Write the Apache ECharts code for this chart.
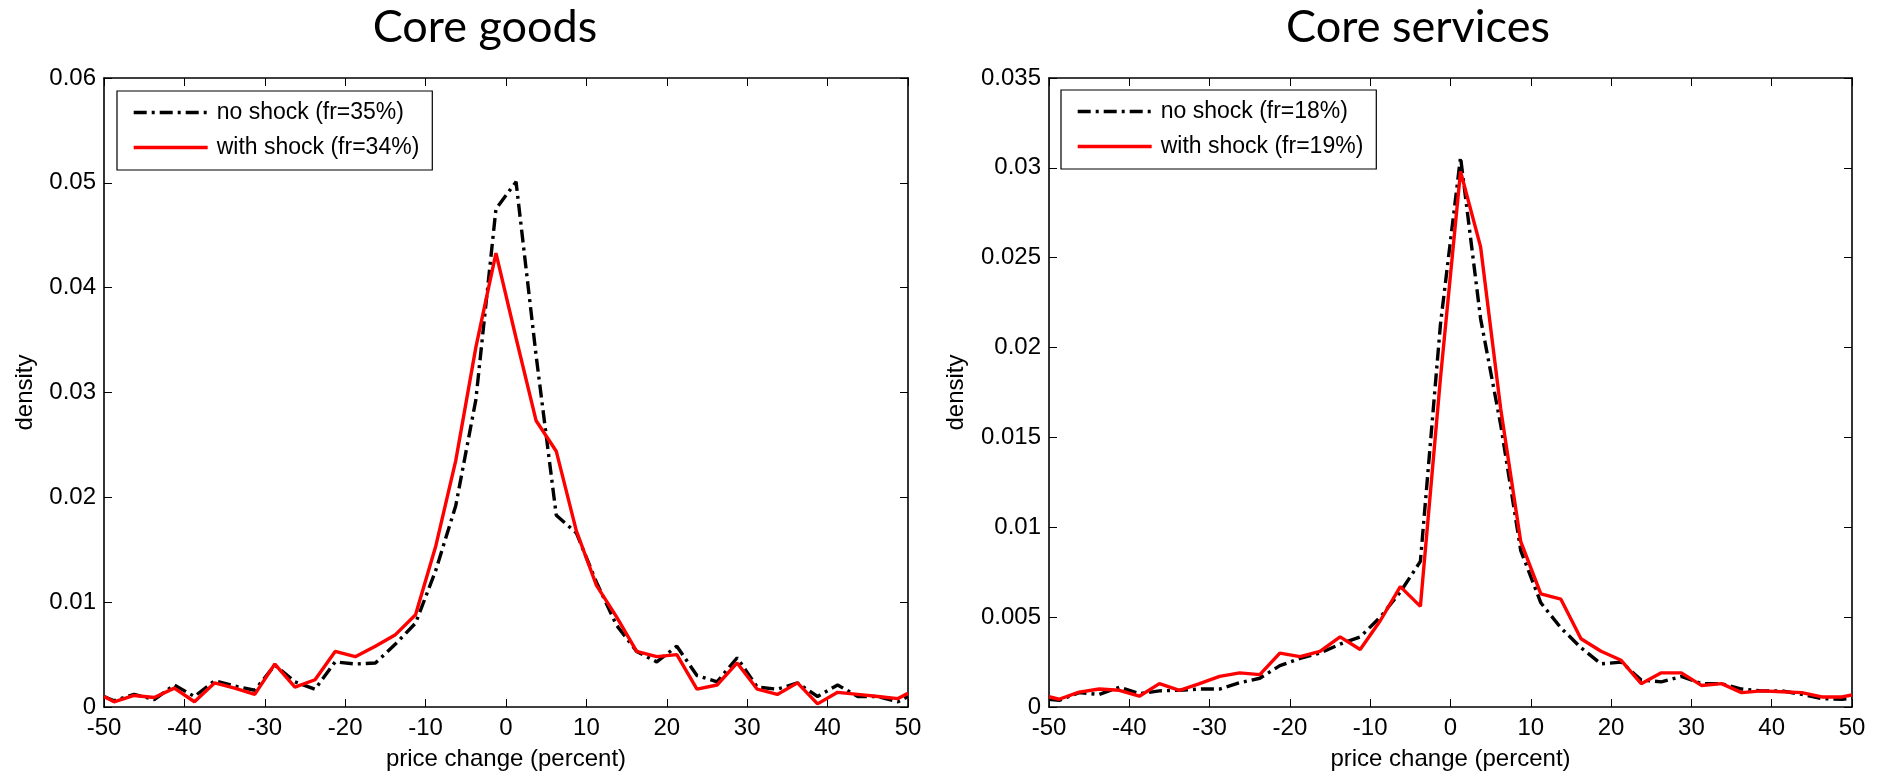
<!DOCTYPE html>
<html><head><meta charset="utf-8">
<script src="https://cdn.jsdelivr.net/npm/echarts@6/dist/echarts.min.js"></script>
<style>html,body{margin:0;padding:0;background:#fff}#c{width:1881px;height:776px}</style>
</head><body><div id="c"></div>
<script>
// price change bins (percent)
const priceChange = [-50, -48.75, -46.25, -43.75, -41.25, -38.75, -36.25, -33.75, -31.25, -28.75, -26.25, -23.75, -21.25, -18.75, -16.25, -13.75, -11.25, -8.75, -6.25, -3.75, -1.25, 1.25, 3.75, 6.25, 8.75, 11.25, 13.75, 16.25, 18.75, 21.25, 23.75, 26.25, 28.75, 31.25, 33.75, 36.25, 38.75, 41.25, 43.75, 46.25, 48.75, 50];

// Core goods
const goodsNoShock = [0.0010, 0.0006, 0.0012, 0.0007, 0.0021, 0.0010, 0.0025, 0.0020, 0.0016, 0.0040, 0.0024, 0.0017, 0.0043, 0.0041, 0.0042, 0.0060, 0.0080, 0.0130, 0.0192, 0.0293, 0.0475, 0.0501, 0.0335, 0.0183, 0.0166, 0.0119, 0.0078, 0.0053, 0.0043, 0.0058, 0.0030, 0.0024, 0.0047, 0.0019, 0.0017, 0.0023, 0.0010, 0.0021, 0.0010, 0.0010, 0.0005, 0.0010];
const goodsWithShock = [0.0010, 0.0005, 0.0011, 0.0009, 0.0018, 0.0005, 0.0023, 0.0018, 0.0012, 0.0041, 0.0019, 0.0026, 0.0053, 0.0048, 0.0058, 0.0069, 0.0088, 0.0153, 0.0235, 0.0343, 0.0433, 0.0352, 0.0273, 0.0244, 0.0168, 0.0116, 0.0086, 0.0053, 0.0048, 0.0050, 0.0017, 0.0021, 0.0042, 0.0017, 0.0012, 0.0023, 0.0003, 0.0014, 0.0012, 0.0010, 0.0008, 0.0013];

// Core services
const servicesNoShock = [0.00043, 0.00037, 0.0008, 0.0007, 0.0011, 0.00074, 0.0009, 0.00093, 0.0010, 0.0010, 0.00135, 0.0016, 0.0023, 0.0027, 0.0030, 0.0035, 0.0039, 0.0050, 0.0064, 0.0081, 0.0213, 0.0306, 0.0216, 0.0157, 0.0087, 0.0058, 0.0044, 0.0033, 0.0024, 0.0025, 0.0015, 0.0014, 0.0017, 0.0013, 0.0013, 0.0010, 0.0009, 0.0009, 0.0007, 0.00046, 0.00043, 0.0005];
const servicesWithShock = [0.00057, 0.00043, 0.00083, 0.0010, 0.00093, 0.0006, 0.0013, 0.00093, 0.0013, 0.0017, 0.0019, 0.0018, 0.0030, 0.0028, 0.0031, 0.0039, 0.0032, 0.0048, 0.0067, 0.0056, 0.0183, 0.0298, 0.0256, 0.0166, 0.0092, 0.0063, 0.0060, 0.0038, 0.0031, 0.0026, 0.0013, 0.0019, 0.0019, 0.0012, 0.0013, 0.0008, 0.0009, 0.00085, 0.0008, 0.00056, 0.00056, 0.00067];

// axis ranges / tick steps
const xRange = [-50, 50], xStep = 10;
const goodsYRange = [0, 0.06], goodsYStep = 0.01;
const servicesYRange = [0, 0.035], servicesYStep = 0.005;

const titles = ['Core goods', 'Core services'];
const legendNames = [['no shock (fr=35%)', 'with shock (fr=34%)'], ['no shock (fr=18%)', 'with shock (fr=19%)']];
const xName = 'price change (percent)';
const yName = 'density';

const FONT = 'Liberation Sans, Arial, sans-serif';
const grids = [
  {left: 104, top: 78, width: 804, height: 631},
  {left: 1049, top: 78, width: 803, height: 631}
];
const yRanges = [goodsYRange, servicesYRange];
const ySteps = [goodsYStep, servicesYStep];
const yNameGaps = [67, 81];

const fmtY = v => v === 0 ? '0' : String(+v.toFixed(4));

const xAxes = [], yAxes = [];
[0, 1].forEach(g => {
  xAxes.push({
    gridIndex: g, type: 'value', min: xRange[0], max: xRange[1], interval: xStep, position: 'bottom',
    axisLine: {show: true, onZero: false, lineStyle: {color: '#000', width: 1.6}},
    axisTick: {show: true, inside: true, length: 8, lineStyle: {color: '#000', width: 1}},
    axisLabel: {color: '#000', fontSize: 24, fontFamily: FONT, margin: 9},
    splitLine: {show: false},
    name: xName, nameLocation: 'middle', nameGap: 40,
    nameTextStyle: {color: '#000', fontSize: 24, fontFamily: FONT}
  });
  xAxes.push({
    gridIndex: g, type: 'value', min: xRange[0], max: xRange[1], interval: xStep, position: 'top',
    axisLine: {show: true, onZero: false, lineStyle: {color: '#000', width: 1.6}},
    axisTick: {show: true, inside: true, length: 8, lineStyle: {color: '#000', width: 1}},
    axisLabel: {show: false}, splitLine: {show: false}
  });
  yAxes.push({
    gridIndex: g, type: 'value', min: yRanges[g][0], max: yRanges[g][1], interval: ySteps[g], position: 'left',
    axisLine: {show: true, onZero: false, lineStyle: {color: '#000', width: 1.6}},
    axisTick: {show: true, inside: true, length: 8, lineStyle: {color: '#000', width: 1}},
    axisLabel: {color: '#000', fontSize: 24, fontFamily: FONT, margin: 8, formatter: fmtY},
    splitLine: {show: false},
    name: yName, nameLocation: 'middle', nameGap: yNameGaps[g], nameRotate: 90,
    nameTextStyle: {color: '#000', fontSize: 24, fontFamily: FONT}
  });
  yAxes.push({
    gridIndex: g, type: 'value', min: yRanges[g][0], max: yRanges[g][1], interval: ySteps[g], position: 'right',
    axisLine: {show: true, onZero: false, lineStyle: {color: '#000', width: 1.6}},
    axisTick: {show: true, inside: true, length: 8, lineStyle: {color: '#000', width: 1}},
    axisLabel: {show: false}, splitLine: {show: false}
  });
});

const pairs = arr => priceChange.map((x, i) => [x, arr[i]]);
const dashDot = [13, 5, 3, 5];
const seriesData = [[goodsNoShock, goodsWithShock], [servicesNoShock, servicesWithShock]];
const series = [];
[0, 1].forEach(g => {
  series.push({
    name: legendNames[g][0], type: 'line', xAxisIndex: g * 2, yAxisIndex: g * 2,
    data: pairs(seriesData[g][0]), symbol: 'none', showSymbol: false,
    lineStyle: {color: '#000', width: 3.4, type: dashDot}, itemStyle: {color: '#000'}
  });
  series.push({
    name: legendNames[g][1], type: 'line', xAxisIndex: g * 2, yAxisIndex: g * 2,
    data: pairs(seriesData[g][1]), symbol: 'none', showSymbol: false,
    lineStyle: {color: '#ff0000', width: 3.4, type: 'solid'}, itemStyle: {color: '#ff0000'}
  });
});

const legendPos = [{left: 117, top: 91}, {left: 1061, top: 90}];
const legends = [0, 1].map(g => ({
  data: legendNames[g], orient: 'vertical', left: legendPos[g].left, top: legendPos[g].top,
  backgroundColor: '#fff', borderColor: '#000', borderWidth: 1.2, borderRadius: 0,
  padding: [10, 13, 11, 15], itemGap: 12, itemWidth: 74, itemHeight: 22,
  itemStyle: {opacity: 0},
  lineStyle: {width: 3.4},
  textStyle: {color: '#000', fontSize: 23, fontFamily: FONT, lineHeight: 22, padding: [0, 0, 0, 4]},
  selectedMode: false
}));

const titleCenters = [485, 1418];
const titleOpts = [0, 1].map(g => ({
  text: titles[g], left: titleCenters[g], top: 5, textAlign: 'center', padding: 0,
  textStyle: {fontFamily: 'Lato, sans-serif', fontSize: 45, fontWeight: 'normal', color: '#000'}
}));

const chart = echarts.init(document.getElementById('c'), null, {renderer: 'canvas'});
chart.setOption({
  animation: false,
  backgroundColor: '#fff',
  title: titleOpts,
  legend: legends,
  grid: grids,
  xAxis: xAxes,
  yAxis: yAxes,
  series: series
});
</script></body></html>
